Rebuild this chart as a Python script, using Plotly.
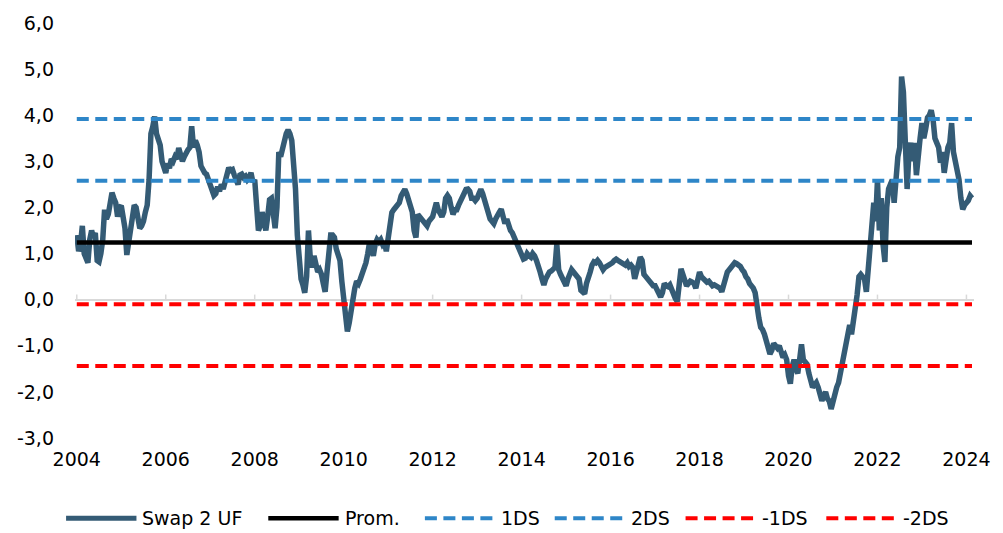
import plotly.graph_objects as go

# Swap 2 UF, semi-monthly observations (24 per year), 2004 .. early 2024
y2004 = [1.40, 1.05, 1.20, 1.60, 1.00, 0.85, 0.80, 1.30, 1.50, 1.35, 1.45, 0.85,
         0.82, 1.00, 1.30, 1.95, 1.75, 1.85, 2.20, 2.32, 2.20, 2.10, 1.80, 2.00]
y2005 = [2.04, 1.75, 1.55, 0.97, 1.20, 1.45, 1.80, 2.05, 2.00, 1.75, 1.55, 1.60,
         1.70, 1.90, 2.05, 2.60, 3.60, 3.75, 3.97, 3.60, 3.50, 3.35, 3.00, 2.85]
y2006 = [2.75, 2.95, 2.85, 3.05, 3.00, 3.10, 3.05, 3.29, 3.15, 3.00, 3.10, 3.20,
         3.25, 3.30, 3.76, 3.30, 3.45, 3.35, 3.20, 2.90, 2.80, 2.75, 2.72, 2.60]
y2007 = [2.54, 2.40, 2.26, 2.30, 2.45, 2.35, 2.50, 2.40, 2.55, 2.70, 2.86, 2.80,
         2.82, 2.70, 2.55, 2.50, 2.70, 2.72, 2.65, 2.68, 2.60, 2.65, 2.75, 2.55]
y2008 = [2.60, 1.75, 1.50, 1.60, 1.90, 1.70, 1.50, 1.80, 2.17, 2.20, 1.90, 1.55,
         2.00, 3.20, 3.10, 3.30, 3.47, 3.60, 3.68, 3.60, 3.45, 2.90, 2.40, 1.40]
y2009 = [0.70, 0.45, 0.32, 0.15, 0.50, 1.50, 0.90, 0.70, 0.95, 0.80, 0.60, 0.65,
         0.55, 0.35, 0.17, 0.60, 1.10, 1.40, 1.40, 1.35, 1.10, 0.90, 0.85, 0.40]
y2010 = [0.00, -0.20, -0.69, -0.50, -0.20, 0.10, 0.25, 0.40, 0.35, 0.45, 0.55, 0.65,
         0.80, 1.00, 1.25, 1.10, 0.95, 1.20, 1.30, 1.25, 1.30, 1.20, 1.25, 1.05]
y2011 = [1.40, 1.70, 1.89, 1.95, 2.00, 2.05, 2.10, 2.25, 2.30, 2.39, 2.30, 2.15,
         2.00, 1.90, 1.50, 1.35, 1.85, 1.80, 1.75, 1.70, 1.65, 1.60, 1.70, 1.75]
y2012 = [1.80, 1.95, 2.10, 1.95, 1.85, 1.80, 1.90, 2.20, 2.26, 2.20, 2.00, 1.85,
         1.95, 1.95, 2.05, 2.15, 2.25, 2.30, 2.39, 2.40, 2.35, 2.20, 2.20, 2.15]
y2013 = [2.20, 2.30, 2.39, 2.30, 2.15, 2.05, 1.95, 1.75, 1.70, 1.65, 1.75, 1.85,
         1.90, 1.96, 1.80, 1.65, 1.75, 1.60, 1.50, 1.45, 1.35, 1.30, 1.20, 1.10]
y2014 = [0.95, 0.88, 0.90, 1.00, 0.95, 0.92, 1.00, 0.95, 0.85, 0.75, 0.60, 0.45,
         0.32, 0.45, 0.55, 0.60, 0.62, 0.65, 0.70, 1.20, 0.65, 0.55, 0.45, 0.35]
y2015 = [0.30, 0.45, 0.55, 0.65, 0.60, 0.55, 0.50, 0.45, 0.20, 0.15, 0.13, 0.35,
         0.45, 0.60, 0.75, 0.82, 0.80, 0.85, 0.80, 0.70, 0.65, 0.70, 0.72, 0.75]
y2016 = [0.75, 0.80, 0.85, 0.88, 0.85, 0.82, 0.80, 0.78, 0.75, 0.80, 0.72, 0.75,
         0.70, 0.45, 0.60, 0.70, 0.92, 0.85, 0.55, 0.50, 0.45, 0.40, 0.35, 0.30]
y2017 = [0.30, 0.20, 0.12, 0.06, 0.15, 0.35, 0.30, 0.28, 0.32, 0.20, 0.05, 0.02,
         -0.04, 0.40, 0.67, 0.55, 0.40, 0.30, 0.35, 0.40, 0.38, 0.35, 0.25, 0.45]
y2018 = [0.60, 0.50, 0.45, 0.40, 0.38, 0.40, 0.35, 0.30, 0.32, 0.30, 0.28, 0.25,
         0.17, 0.35, 0.55, 0.60, 0.65, 0.70, 0.72, 0.80, 0.78, 0.75, 0.72, 0.65]
y2019 = [0.60, 0.50, 0.45, 0.35, 0.30, 0.25, 0.15, -0.20, -0.40, -0.60, -0.65, -0.75,
         -0.90, -1.00, -1.18, -1.10, -0.95, -1.00, -1.05, -1.00, -1.15, -1.25, -1.20, -1.30]
y2020 = [-1.65, -1.82, -1.45, -1.30, -1.50, -1.60, -1.30, -0.97, -1.30, -1.35, -1.40, -1.60,
         -1.75, -1.90, -1.85, -1.80, -1.90, -2.05, -2.19, -2.10, -2.00, -2.15, -2.20, -2.37]
y2021 = [-2.20, -2.00, -1.90, -1.80, -1.60, -1.40, -1.20, -1.05, -0.85, -0.55, -0.75, -0.50,
         -0.10, 0.10, 0.50, 0.55, 0.50, 0.45, 0.17, 0.70, 0.90, 1.60, 2.10, 1.70]
y2022 = [2.60, 1.50, 2.20, 1.20, 0.82, 2.00, 2.40, 2.50, 2.60, 2.10, 2.80, 3.10,
         3.30, 4.84, 4.50, 3.50, 2.40, 3.20, 3.40, 3.00, 3.40, 2.70, 3.30, 3.50]
y2023 = [3.83, 3.50, 3.70, 3.95, 4.00, 4.11, 3.90, 3.50, 3.40, 3.30, 2.97, 3.20,
         2.75, 3.10, 3.30, 3.40, 3.83, 3.20, 3.00, 2.80, 2.60, 2.20, 1.96, 2.05]
y2024 = [2.10, 2.15, 2.25, 2.20]

years = list(range(2004, 2025))
values_by_year = [y2004, y2005, y2006, y2007, y2008, y2009, y2010, y2011, y2012,
                  y2013, y2014, y2015, y2016, y2017, y2018, y2019, y2020, y2021,
                  y2022, y2023, y2024]

# Long-run average and standard deviation of the swap rate
prom = 1.24
ds = 1.34
bands = [
    ("Prom.", prom, "#000000", "solid"),
    ("1DS", prom + ds, "#2E86C8", "12px,6.5px"),
    ("2DS", prom + 2 * ds, "#2E86C8", "12px,6.5px"),
    ("-1DS", prom - ds, "#FF0000", "12px,6.5px"),
    ("-2DS", prom - 2 * ds, "#FF0000", "12px,6.5px"),
]

tick_years = [2004, 2006, 2008, 2010, 2012, 2014, 2016, 2018, 2020, 2022, 2024]
tick_labels = [str(t) for t in tick_years]
y_ticks = [-3, -2, -1, 0, 1, 2, 3, 4, 5, 6]
y_tick_labels = ["-3,0", "-2,0", "-1,0", "0,0", "1,0", "2,0", "3,0", "4,0", "5,0", "6,0"]

SWAP_COLOR = "#345B75"
FONT = "DejaVu Sans"

# decimal-year time axis, 24 observations per year
x = []
y = []
for yr, vals in zip(years, values_by_year):
    for i, v in enumerate(vals):
        x.append(yr + i / 24)
        y.append(v)

fig = go.Figure()
fig.add_trace(go.Scatter(x=x, y=y, mode="lines", name="Swap 2 UF",
                         line=dict(color=SWAP_COLOR, width=5.5), showlegend=False))
for name, level, color, dash in bands:
    fig.add_trace(go.Scatter(x=[x[0], x[-1]], y=[level, level], mode="lines", name=name,
                             line=dict(color=color, width=4.5 if dash == "solid" else 4, dash=dash),
                             showlegend=False))

# small tick marks standing on the zero line
shapes = []
for t in tick_years:
    shapes.append(dict(type="line", xref="x", yref="y", x0=t, x1=t, y0=0, y1=0.11,
                       line=dict(color="#D9D9D9", width=1.5), layer="below"))

# legend row drawn under the plot
L, R, T, B, W, H = 75, 21, 19, 95, 1003, 533
pw = W - L - R
ph = H - T - B


def px_x(X):
    return (X - L) / pw


def px_y(Y):
    return (H - B - Y) / ph


legend_items = [("Swap 2 UF", SWAP_COLOR, "solid", 5, 66),
                ("Prom.", "#000000", "solid", 4.5, 270)]
legend_items += [(n, c, d, 4, x0) for (n, _, c, d), x0 in
                 zip(bands[1:], [428, 559, 691, 833])]
annotations = []
ly = px_y(519)
for name, color, dash, width, x0 in legend_items:
    shapes.append(dict(type="line", xref="paper", yref="paper",
                       x0=px_x(x0), x1=px_x(x0 + 71), y0=ly, y1=ly,
                       line=dict(color=color, width=width, dash=dash)))
    annotations.append(dict(text=name, xref="paper", yref="paper", x=px_x(x0 + 75), y=ly,
                            xanchor="left", yanchor="middle", showarrow=False,
                            font=dict(family=FONT, size=19, color="#000000")))

fig.update_layout(
    width=W, height=H,
    margin=dict(l=L, r=R, t=T, b=B, pad=0),
    paper_bgcolor="white", plot_bgcolor="white",
    font=dict(family=FONT, size=19, color="#000000"),
    shapes=shapes, annotations=annotations,
    xaxis=dict(range=[2003.96, 2024.17], tickvals=tick_years, ticktext=tick_labels,
               showgrid=False, zeroline=False, showline=False, ticks="",
               ticklabelstandoff=8, tickfont=dict(family=FONT, size=19)),
    yaxis=dict(range=[-3, 6], tickvals=y_ticks, ticktext=y_tick_labels,
               showgrid=False, zeroline=True, zerolinecolor="#D9D9D9", zerolinewidth=2,
               showline=False, ticks="", ticklabelstandoff=20,
               tickfont=dict(family=FONT, size=19)),
)

fig.write_html("out.html")
